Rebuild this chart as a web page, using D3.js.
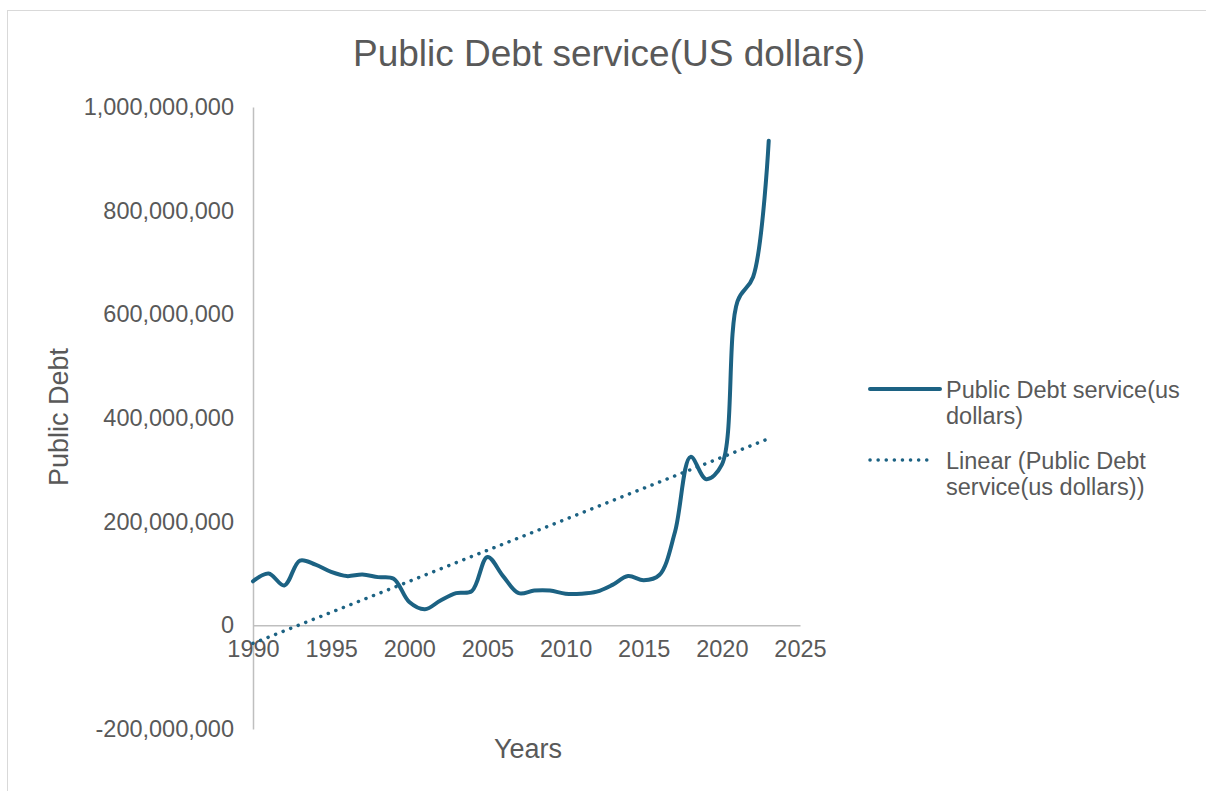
<!DOCTYPE html>
<html>
<head>
<meta charset="utf-8">
<script src="https://cdn.jsdelivr.net/npm/d3@7"></script>
<style>
  body { margin: 0; background: #fff; }
  text { font-family: "Liberation Sans", Arial, sans-serif; fill: #595959; }
</style>
</head>
<body>
<div id="chart"></div>
<script>
/*
------------------------------
DATA: years and debt service values (US dollars)
------------------------------
*/
const years = [1990, 1991, 1992, 1993, 1994, 1995, 1996, 1997, 1998, 1999,
  2000, 2001, 2002, 2003, 2004, 2005, 2006, 2007, 2008, 2009,
  2010, 2011, 2012, 2013, 2014, 2015, 2016, 2017, 2018, 2019,
  2020, 2021, 2022, 2023];
const debtService = [85e6, 100e6, 77e6, 125e6, 117e6, 103e6, 95e6, 98e6, 93e6, 90e6,
  45e6, 31e6, 48e6, 62e6, 66e6, 132e6, 95e6, 62e6, 67e6, 67e6,
  61e6, 61e6, 65e6, 78e6, 95e6, 87e6, 97e6, 180e6, 325e6, 282e6,
  310e6, 625e6, 672e6, 935e6];
const xTicks = [1990, 1995, 2000, 2005, 2010, 2015, 2020, 2025];
const yTicks = [-200e6, 0, 200e6, 400e6, 600e6, 800e6, 1000e6];
const seriesName = ["Public Debt service(us", "dollars)"];
const trendName = ["Linear (Public Debt", "service(us dollars))"];

/*
------------------------------
METHOD: set the size of the canvas
------------------------------
*/
const width = 1206;
const height = 791;
const plot = { left: 253, right: 800, top: 107, bottom: 729 };
const lineColor = "#1c6283";

const svg = d3.select("#chart")
  .append("svg")
  .attr("width", width)
  .attr("height", height);

// chart frame
svg.append("rect")
  .attr("x", 7.5).attr("y", 10.5)
  .attr("width", 1210).attr("height", 800)
  .attr("fill", "none")
  .attr("stroke", "#d9d9d9");

const x = d3.scaleLinear().domain([1990, 2025]).range([plot.left, plot.right]);
const y = d3.scaleLinear().domain([-200e6, 1000e6]).range([plot.bottom, plot.top]);

// title
svg.append("text")
  .attr("x", 609).attr("y", 66)
  .attr("text-anchor", "middle")
  .style("font-size", "37px")
  .text("Public Debt service(US dollars)");

// y axis (vertical line + labels)
const fmt = d3.format(",");
const yAxis = svg.append("g")
  .attr("transform", `translate(${x(1990)},0)`)
  .call(d3.axisLeft(y).tickValues(yTicks).tickSize(0).tickPadding(19)
    .tickFormat(d => fmt(d).replace("\u2212", "-")));
yAxis.select(".domain").attr("stroke", "#bfbfbf").attr("stroke-width", 1.5);
yAxis.selectAll("text").style("font-size", "23.5px").style("fill", "#595959");

// x axis sits on the zero line
const xAxis = svg.append("g")
  .attr("transform", `translate(0,${y(0)})`)
  .call(d3.axisBottom(x).tickValues(xTicks).tickSize(0).tickPadding(15)
    .tickFormat(d3.format("d")));
xAxis.select(".domain").attr("stroke", "#bfbfbf").attr("stroke-width", 1.5);
xAxis.selectAll("text").style("font-size", "23.5px").style("fill", "#595959");

// axis titles
svg.append("text")
  .attr("x", 528).attr("y", 758)
  .attr("text-anchor", "middle")
  .style("font-size", "27px")
  .text("Years");

svg.append("text")
  .attr("transform", "translate(68,417) rotate(-90)")
  .attr("text-anchor", "middle")
  .style("font-size", "27px")
  .text("Public Debt");

const data = years.map((yr, i) => ({ year: yr, value: debtService[i] }));

// least squares trend line
const mx = d3.mean(years);
const my = d3.mean(debtService);
const slope = d3.sum(data, d => (d.year - mx) * (d.value - my)) /
  d3.sum(data, d => (d.year - mx) ** 2);
const intercept = my - slope * mx;
const trend = [years[0], years[years.length - 1]].map(yr => ({ year: yr, value: intercept + slope * yr }));

const line = d3.line()
  .x(d => x(d.year))
  .y(d => y(d.value));

svg.append("path")
  .datum(trend)
  .attr("fill", "none")
  .attr("stroke", lineColor)
  .attr("stroke-width", 3.5)
  .attr("stroke-linecap", "round")
  .attr("stroke-dasharray", "0.1 8")
  .attr("d", line);

svg.append("path")
  .datum(data)
  .attr("fill", "none")
  .attr("stroke", lineColor)
  .attr("stroke-width", 4)
  .attr("stroke-linejoin", "round")
  .attr("stroke-linecap", "round")
  .attr("d", line.curve(d3.curveCatmullRom.alpha(0.5)));

/*
------------------------------
legend
------------------------------
*/
const legend = svg.append("g");

legend.append("line")
  .attr("x1", 870).attr("x2", 940).attr("y1", 389).attr("y2", 389)
  .attr("stroke", lineColor).attr("stroke-width", 4).attr("stroke-linecap", "round");
legend.append("text")
  .attr("x", 946).attr("y", 398)
  .style("font-size", "23.5px")
  .selectAll("tspan").data(seriesName).join("tspan")
  .attr("x", 946).attr("dy", (d, i) => i ? 26 : 0)
  .text(d => d);

legend.append("line")
  .attr("x1", 870).attr("x2", 934).attr("y1", 460).attr("y2", 460)
  .attr("stroke", lineColor).attr("stroke-width", 3.5)
  .attr("stroke-linecap", "round").attr("stroke-dasharray", "0.1 8");
legend.append("text")
  .attr("x", 946).attr("y", 469)
  .style("font-size", "23.5px")
  .selectAll("tspan").data(trendName).join("tspan")
  .attr("x", 946).attr("dy", (d, i) => i ? 26 : 0)
  .text(d => d);
</script>
</body>
</html>
